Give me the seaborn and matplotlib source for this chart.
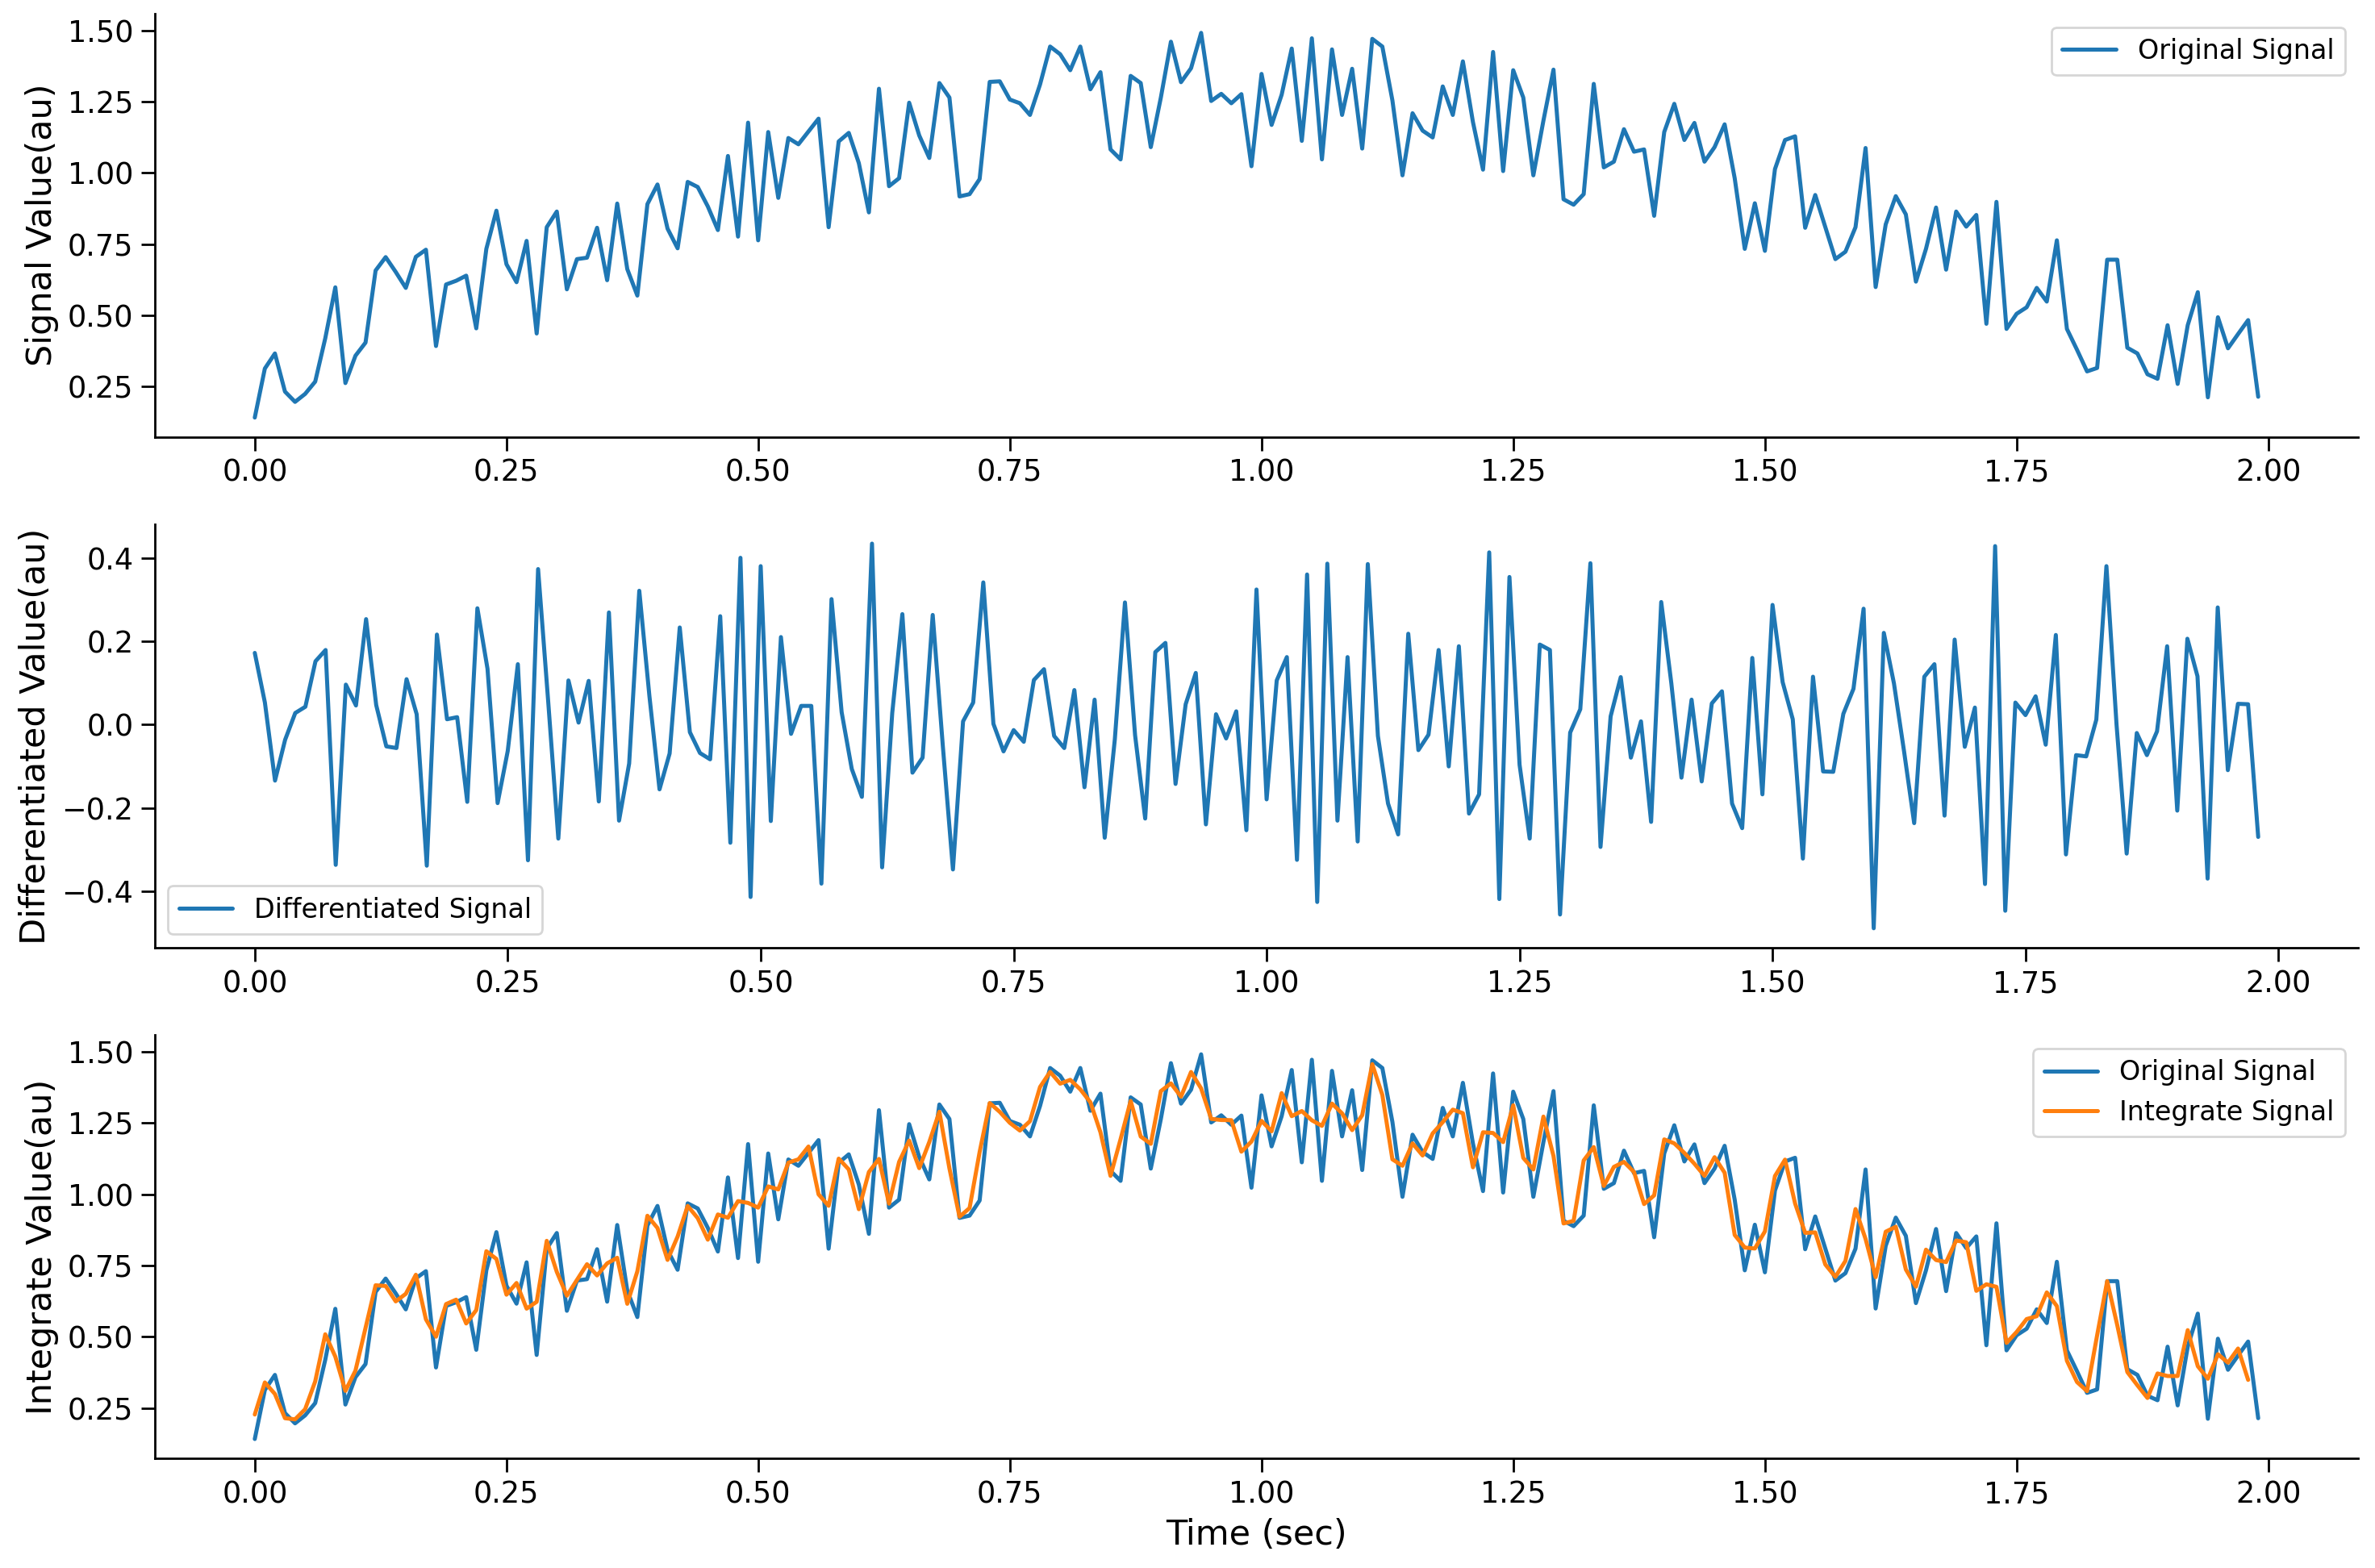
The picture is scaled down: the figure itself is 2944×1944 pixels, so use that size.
import numpy as np
import pandas as pd
import matplotlib
matplotlib.use("Agg")
import matplotlib.pyplot as plt
import seaborn as sns

# Sampling: 0.00 .. 1.99 s, step 0.01 s
time_sec = np.round(np.arange(200) * 0.01, 2)

# Original signal values (200 samples)
signal_0_049 = [0.141, 0.313, 0.366, 0.232, 0.196, 0.224, 0.267, 0.419, 0.598, 0.262,
                0.358, 0.404, 0.657, 0.704, 0.652, 0.596, 0.705, 0.730, 0.392, 0.608,
                0.621, 0.639, 0.454, 0.733, 0.867, 0.679, 0.616, 0.761, 0.436, 0.809,
                0.864, 0.591, 0.697, 0.702, 0.807, 0.623, 0.892, 0.662, 0.569, 0.890,
                0.959, 0.804, 0.735, 0.968, 0.950, 0.882, 0.799, 1.059, 0.776, 1.176]
signal_050_099 = [0.763, 1.143, 0.912, 1.122, 1.100, 1.145, 1.190, 0.809, 1.110, 1.140,
                  1.034, 0.861, 1.295, 0.953, 0.981, 1.246, 1.131, 1.052, 1.315, 1.264,
                  0.917, 0.925, 0.978, 1.319, 1.321, 1.257, 1.244, 1.203, 1.310, 1.443,
                  1.416, 1.360, 1.443, 1.293, 1.353, 1.082, 1.047, 1.340, 1.315, 1.090,
                  1.264, 1.460, 1.318, 1.367, 1.491, 1.252, 1.277, 1.244, 1.276, 1.023]
signal_100_149 = [1.347, 1.168, 1.274, 1.436, 1.112, 1.472, 1.047, 1.433, 1.203, 1.365,
                  1.085, 1.470, 1.443, 1.254, 0.991, 1.209, 1.148, 1.124, 1.303, 1.203,
                  1.391, 1.178, 1.011, 1.424, 1.006, 1.360, 1.264, 0.991, 1.183, 1.362,
                  0.907, 0.888, 0.925, 1.312, 1.019, 1.039, 1.153, 1.074, 1.082, 0.849,
                  1.143, 1.242, 1.115, 1.175, 1.039, 1.090, 1.170, 0.981, 0.733, 0.893]
signal_150_199 = [0.726, 1.013, 1.115, 1.128, 0.807, 0.922, 0.810, 0.697, 0.723, 0.809,
                  1.087, 0.599, 0.819, 0.918, 0.854, 0.618, 0.733, 0.878, 0.660, 0.864,
                  0.811, 0.852, 0.470, 0.898, 0.452, 0.505, 0.528, 0.596, 0.548, 0.763,
                  0.452, 0.379, 0.303, 0.315, 0.695, 0.695, 0.386, 0.366, 0.293, 0.277,
                  0.465, 0.259, 0.465, 0.581, 0.212, 0.493, 0.384, 0.434, 0.483, 0.214]

original_signal = np.array(signal_0_049 + signal_050_099 + signal_100_149 + signal_150_199)

# Derived series, as in the original chart
differentiated_signal = np.diff(original_signal)                       # sample-to-sample difference
integrate_signal = (original_signal[:-1] + original_signal[1:]) / 2.0  # trapezoid step values
time_short = time_sec[:-1]

df_orig = pd.DataFrame({"time": time_sec, "value": original_signal})
df_diff = pd.DataFrame({"time": time_short, "value": differentiated_signal})
df_int = pd.DataFrame({"time": time_short, "value": integrate_signal})

sns.set_style("ticks", {"axes.edgecolor": "black", "text.color": "black",
                        "xtick.color": "black", "ytick.color": "black",
                        "axes.labelcolor": "black"})
plt.rcParams["font.family"] = ["DejaVu Sans"]

LABEL_FS = 15.5
TICK_FS = 13.2
LEG_FS = 12
LW = 1.8

fig, axes = plt.subplots(3, 1, figsize=(14.72, 9.72), dpi=200)
fig.subplots_adjust(left=0.0651, right=0.9930, top=0.9913, bottom=0.070, hspace=0.207)

blue = "#1f77b4"
orange = "#ff7f0e"

ax = axes[0]
sns.lineplot(data=df_orig, x="time", y="value", ax=ax, color=blue, linewidth=LW,
             label="Original Signal")
ax.set_xlabel("")
ax.set_ylabel("Signal Value(au)", fontsize=LABEL_FS)
ax.legend(loc="upper right", fontsize=LEG_FS)

ax = axes[1]
sns.lineplot(data=df_diff, x="time", y="value", ax=ax, color=blue, linewidth=LW,
             label="Differentiated Signal")
ax.set_xlabel("")
ax.set_ylabel("Differentiated Value(au)", fontsize=LABEL_FS)
ax.legend(loc="lower left", fontsize=LEG_FS)

ax = axes[2]
sns.lineplot(data=df_orig, x="time", y="value", ax=ax, color=blue, linewidth=LW,
             label="Original Signal")
sns.lineplot(data=df_int, x="time", y="value", ax=ax, color=orange, linewidth=LW,
             label="Integrate Signal")
ax.set_xlabel("Time (sec)", fontsize=LABEL_FS)
ax.set_ylabel("Integrate Value(au)", fontsize=LABEL_FS)
ax.legend(loc="upper right", fontsize=LEG_FS)

xticks = [0.00, 0.25, 0.50, 0.75, 1.00, 1.25, 1.50, 1.75, 2.00]
for ax in axes:
    ax.set_xticks(xticks)
    ax.set_xticklabels([f"{v:.2f}" for v in xticks])
    ax.tick_params(axis="both", labelsize=TICK_FS, length=6, width=1.0, colors="black")
    for sp in ax.spines.values():
        sp.set_linewidth(1.0)
        sp.set_color("black")
    sns.despine(ax=ax)

fig.savefig("out.png", dpi=200)
